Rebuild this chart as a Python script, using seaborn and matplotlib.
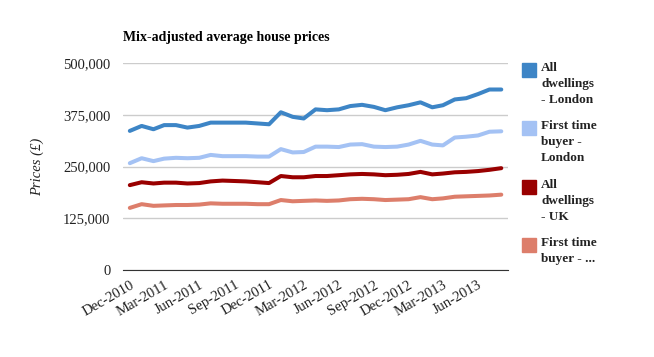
import numpy as np
import pandas as pd
import matplotlib
matplotlib.use("Agg")
import matplotlib.pyplot as plt
import matplotlib.dates as mdates
from matplotlib.patches import Rectangle
import seaborn as sns

# Monthly data, Dec-2010 .. Aug-2013
months = pd.date_range("2010-12-01", "2013-08-01", freq="MS")

all_london = [336, 348, 340, 350, 350, 344, 348, 356, 356, 356, 356, 354, 352, 381, 370, 366, 388,
              386, 388, 396, 399, 394, 386, 393, 398, 405, 393, 398, 412, 415, 425, 436, 436]
ftb_london = [258, 270, 263, 269, 271, 270, 271, 278, 275, 275, 275, 274, 274, 292, 284, 285, 298,
              298, 297, 303, 304, 298, 297, 298, 303, 312, 303, 301, 320, 322, 325, 334, 335]
all_uk = [205, 212, 209, 211, 211, 209, 210, 214, 216, 215, 214, 212, 210, 227, 224, 224, 227,
          227, 229, 231, 232, 231, 229, 230, 232, 237, 231, 233, 236, 237, 239, 242, 246]
ftb_uk = [150, 159, 155, 156, 157, 157, 158, 161, 160, 160, 160, 159, 159, 169, 166, 167, 168,
          167, 168, 171, 172, 171, 169, 170, 171, 176, 171, 173, 177, 178, 179, 180, 182]

series = ["All dwellings - London", "First time buyer - London", "All dwellings - UK", "First time buyer - UK"]
legend_labels = ["All\ndwellings\n- London", "First time\nbuyer -\nLondon", "All\ndwellings\n- UK", "First time\nbuyer - ..."]
colors = ["#3d85c6", "#a4c2f4", "#990000", "#dd7e6b"]

df = pd.DataFrame({"month": months, series[0]: all_london, series[1]: ftb_london,
                   series[2]: all_uk, series[3]: ftb_uk})
df = df.melt(id_vars="month", var_name="series", value_name="price")
df["price"] = df["price"] * 1000

sns.set_style("white")
plt.rcParams["font.family"] = ["Liberation Serif", "DejaVu Serif"]

fig = plt.figure(figsize=(6.54, 3.57), dpi=100)
ax = fig.add_axes([0.188, 0.2437, 0.589, 0.5798])

sns.lineplot(data=df, x="month", y="price", hue="series", hue_order=series,
             palette=colors, linewidth=2.9, legend=False, ax=ax)

ax.set_ylim(0, 500000)
ax.set_yticks([0, 125000, 250000, 375000, 500000])
ax.yaxis.set_major_formatter(matplotlib.ticker.FuncFormatter(lambda v, p: f"{int(v):,}"))
ax.set_xlim(months[0] - pd.Timedelta(days=18), months[-1] + pd.Timedelta(days=18))
ax.set_xticks(months[::3][:11])
ax.xaxis.set_major_formatter(mdates.DateFormatter("%b-%Y"))
for lbl in ax.get_xticklabels():
    lbl.set_rotation(30)
    lbl.set_ha("right")
    lbl.set_rotation_mode("anchor")
ax.tick_params(axis="both", length=0, labelsize=10.5, colors="#222222")
ax.tick_params(axis="y", pad=9)
ax.tick_params(axis="x", pad=6)
ax.grid(axis="y", color="#cccccc", linewidth=1)
ax.set_axisbelow(True)
for s in ["top", "right", "left"]:
    ax.spines[s].set_visible(False)
ax.spines["bottom"].set_color("#333333")
ax.set_xlabel("")
ax.set_ylabel("Prices (£)", fontsize=10.5, fontstyle="italic", color="#222222", labelpad=14)

fig.text(0.188, 1 - 38 / 357, "Mix-adjusted average house prices", fontsize=10,
         fontweight="bold", va="center", ha="left", color="#000000")

# legend on the right, square swatches aligned with first text line
tops = [63, 121, 180, 238]
for top, lab, c in zip(tops, legend_labels, colors):
    fig.add_artist(Rectangle((522 / 654, 1 - (top + 14) / 357), 14 / 654, 14 / 357,
                             transform=fig.transFigure, color=c))
    fig.text(541 / 654, 1 - (top - 1) / 357, lab, fontsize=9.5, fontweight="bold",
             va="top", ha="left", color="#222222", linespacing=1.45)

fig.savefig("out.png", dpi=100)
